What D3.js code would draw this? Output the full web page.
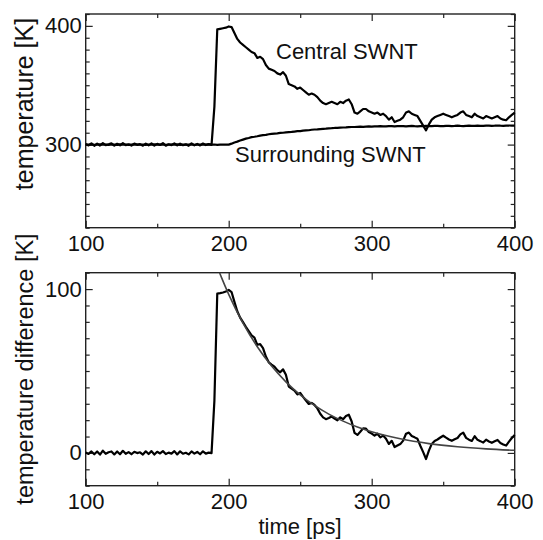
<!DOCTYPE html>
<html lang="en">
<head>
    <meta charset="UTF-8">
    <title>SWNT temperature</title>
    <script src="https://cdnjs.cloudflare.com/ajax/libs/d3/7.8.5/d3.min.js"></script>
    <style>
        body { margin: 0; background: #fff; }
        svg text { font-family: "Liberation Sans", Arial, Helvetica, sans-serif; fill: #111; }
    </style>
</head>
<body>
    <div id="chart"></div>
    <script>
        // sample times [ps], every 2 ps from 100 to 400
        const times = d3.range(100, 401, 2);

        // central SWNT temperature [K]
        const central = [
            300.4, 299.3, 301.1, 299.0, 300.9, 299.2, 301.3, 299.6, 300.2, 301.0,
            299.1, 300.7, 299.4, 301.2, 299.6, 300.3, 299.2, 300.9, 299.8, 300.4,
            299.1, 300.8, 299.4, 301.0, 299.2, 300.6, 299.7, 301.2, 299.1, 300.3,
            299.6, 301.0, 299.3, 300.8, 299.5, 300.2, 299.0, 301.1, 299.4, 300.6,
            299.3, 300.9, 299.6, 300.4, 299.8,
            332, 397, 397.5, 398, 398.5, 399.5, 399, 394, 389, 386,
            384, 382, 380, 378, 377, 373, 374, 372, 367, 364,
            363, 362, 360, 359, 361, 358, 351, 350, 349, 347,
            348, 346, 344, 342, 343, 342, 340, 337, 335, 334,
            335, 336, 335, 334, 336, 335, 337, 338, 334, 327,
            326, 328, 330, 330, 328, 327, 326, 327, 325, 326,
            324, 321, 323, 319, 320, 321, 323, 327, 328, 326,
            325, 324, 320, 316, 312, 317, 321, 323, 324, 325,
            326, 325, 324, 323, 324, 325, 327, 328, 325, 324,
            323, 326, 324, 323, 322, 324, 323, 322, 323, 324,
            322, 321, 320.5, 323, 325, 327
        ];

        // surrounding SWNT temperature [K]
        const surrounding = [
            300.1, 299.9, 300.2, 299.8, 300.0, 300.2, 299.9, 300.1, 299.8, 300.1,
            300.0, 299.8, 300.2, 299.9, 300.1, 299.8, 300.0, 300.2, 299.9, 300.0,
            300.1, 299.8, 300.1, 299.9, 300.2, 299.9, 300.0, 300.1, 299.8, 300.1,
            300.0, 299.9, 300.2, 299.8, 300.0, 300.1, 299.9, 300.2, 299.8, 300.0,
            300.1, 299.9, 300.0, 300.2, 299.9, 300.1, 299.8, 300.0, 300.1, 300.0,
            300.0, 300.8, 301.8, 302.5, 303.4, 304.2, 305.0, 305.6, 306.3, 306.6,
            307.0, 307.6, 308.0, 308.2, 308.7, 309.1, 309.3, 309.5, 309.8, 310.0,
            310.3, 310.5, 310.7, 311.0, 311.3, 311.4, 311.8, 312.0, 312.1, 312.5,
            312.7, 312.8, 313.1, 313.3, 313.4, 313.7, 313.8, 314.0, 314.1, 314.3,
            314.4, 314.5, 314.7, 314.8, 314.8, 315.0, 315.1, 315.0, 315.2, 315.3,
            315.2, 315.4, 315.3, 315.5, 315.4, 315.3, 315.5, 315.6, 315.4, 315.5,
            315.6, 315.5, 315.3, 315.6, 315.7, 315.5, 315.4, 315.6, 315.5, 315.7,
            315.6, 315.5, 315.7, 315.8, 315.6, 315.5, 315.7, 315.8, 315.6, 315.7,
            315.9, 315.7, 315.6, 315.8, 315.9, 315.7, 315.8, 316.0, 315.8, 315.7,
            315.9, 316.0, 315.8, 315.9, 316.1, 315.9, 315.8, 316.0, 316.1, 315.9,
            316.0
        ];

        // exponential fit of the difference
        const fitTimes = [192, 195, 200, 210, 220, 230, 240, 250, 260, 270, 280, 290, 300, 320, 340, 360, 380, 400];
        const fitValues = [113.6, 107, 96.8, 79.2, 64.8, 53.0, 43.4, 35.5, 29.0, 23.7, 19.4, 15.8, 12.9, 8.6, 5.7, 3.8, 2.5, 1.6];

        const xTicks = [100, 200, 300, 400];
        const xMinor = [150, 250, 350];
        const upperTicks = [300, 400];
        const lowerTicks = [0, 100];

        const width = 543, height = 540;
        const left = 85.7, right = 514.7;

        const svg = d3.select("#chart").append("svg")
            .attr("width", width)
            .attr("height", height);

        const x = d3.scaleLinear().domain([100, 400]).range([left, right]);

        const panels = [
            { y0: 14, y1: 227.7, domain: [230, 410], ticks: upperTicks,
              label: "temperature [K]", labelY: 104, labelSize: 25 },
            { y0: 272.7, y1: 485.7, domain: [-20, 110], ticks: lowerTicks,
              label: "temperature difference [K]", labelY: 369, labelSize: 23.5 }
        ];

        panels.forEach((p, k) => {
            p.y = d3.scaleLinear().domain(p.domain).range([p.y1, p.y0]);
            p.g = svg.append("g");
            const minor = d3.range(Math.ceil(p.domain[0] / 10) * 10, p.domain[1] + 1, 10)
                .filter(v => !p.ticks.includes(v));

            // major / minor ticks on all four sides, pointing inward
            const axes = [
                [d3.axisBottom(x).tickValues(xTicks).tickSize(-7).tickPadding(8), `translate(0,${p.y1})`],
                [d3.axisBottom(x).tickValues(xMinor).tickSize(-4).tickFormat(""), `translate(0,${p.y1})`],
                [d3.axisTop(x).tickValues(xTicks).tickSize(-7).tickFormat(""), `translate(0,${p.y0})`],
                [d3.axisTop(x).tickValues(xMinor).tickSize(-4).tickFormat(""), `translate(0,${p.y0})`],
                [d3.axisLeft(p.y).tickValues(p.ticks).tickSize(-7).tickPadding(4), `translate(${left},0)`],
                [d3.axisLeft(p.y).tickValues(minor).tickSize(-4).tickFormat(""), `translate(${left},0)`],
                [d3.axisRight(p.y).tickValues(p.ticks).tickSize(-7).tickFormat(""), `translate(${right},0)`],
                [d3.axisRight(p.y).tickValues(minor).tickSize(-4).tickFormat(""), `translate(${right},0)`]
            ];
            axes.forEach(([axis, tr]) => {
                const a = p.g.append("g").attr("transform", tr).call(axis);
                a.select(".domain").remove();
                a.selectAll("line").attr("stroke", "#222").attr("stroke-width", 1.2);
                a.selectAll("text").attr("font-size", 22).attr("fill", "#111")
                    .attr("font-family", '"Liberation Sans", Arial, sans-serif');
            });

            p.g.append("rect")
                .attr("x", left).attr("y", p.y0)
                .attr("width", right - left).attr("height", p.y1 - p.y0)
                .attr("fill", "none").attr("stroke", "#222").attr("stroke-width", 1.4);

            p.g.append("text")
                .attr("transform", `translate(33,${p.labelY}) rotate(-90)`)
                .attr("text-anchor", "middle")
                .attr("font-size", p.labelSize)
                .text(p.label);

            p.clip = "clip" + k;
            p.g.append("clipPath").attr("id", p.clip)
                .append("rect")
                .attr("x", left).attr("y", p.y0)
                .attr("width", right - left).attr("height", p.y1 - p.y0);
        });

        const upper = panels[0], lower = panels[1];

        const lineUpper = d3.line().x((d, i) => x(times[i])).y(d => upper.y(d));
        [central, surrounding].forEach(s => {
            upper.g.append("path")
                .attr("d", lineUpper(s))
                .attr("fill", "none")
                .attr("stroke", "#000")
                .attr("stroke-width", 2.2)
                .attr("stroke-linejoin", "round");
        });

        upper.g.append("text").attr("x", 276).attr("y", 59).attr("font-size", 22).text("Central SWNT");
        upper.g.append("text").attr("x", 235).attr("y", 162).attr("font-size", 22).text("Surrounding SWNT");

        // temperature difference, central minus surrounding
        const diff = central.map((c, i) => c - surrounding[i]);
        const lineLower = d3.line().x((d, i) => x(times[i])).y(d => lower.y(d));
        lower.g.append("path")
            .attr("d", lineLower(diff))
            .attr("fill", "none")
            .attr("stroke", "#000")
            .attr("stroke-width", 2.2)
            .attr("stroke-linejoin", "round");

        const fitLine = d3.line()
            .x((d, i) => x(fitTimes[i]))
            .y(d => lower.y(d))
            .curve(d3.curveMonotoneX);
        lower.g.append("path")
            .attr("d", fitLine(fitValues))
            .attr("clip-path", `url(#${lower.clip})`)
            .attr("fill", "none")
            .attr("stroke", "#444")
            .attr("stroke-width", 1.6);

        svg.append("text")
            .attr("x", 300).attr("y", 534)
            .attr("text-anchor", "middle")
            .attr("font-size", 22)
            .text("time [ps]");
    </script>
</body>
</html>
